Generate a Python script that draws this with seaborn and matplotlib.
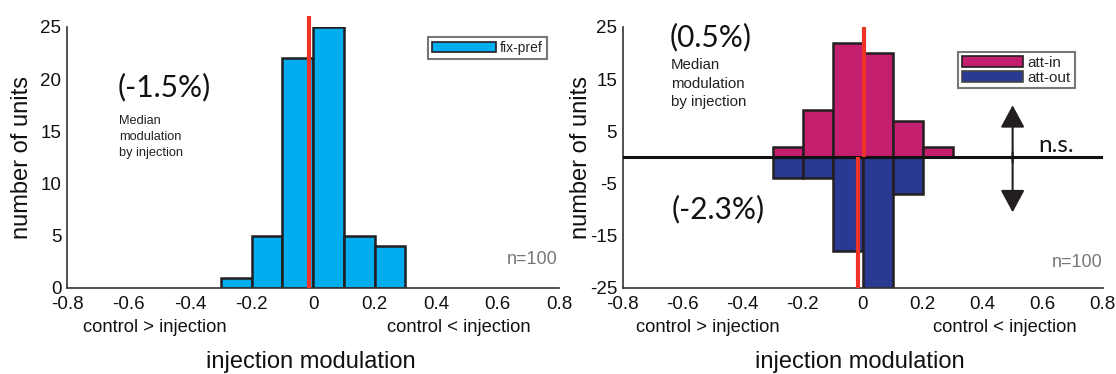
import numpy as np
import pandas as pd
import matplotlib
matplotlib.use("Agg")
import matplotlib.pyplot as plt
import seaborn as sns
from matplotlib.patches import Patch

# ---------------- data ----------------
bin_edges = [-0.3, -0.2, -0.1, 0.0, 0.1, 0.2, 0.3]
fix_pref_counts = [1, 5, 22, 25, 5, 4]
att_in_counts = [2, 9, 22, 20, 7, 2]
att_out_counts = [4, 4, 18, 25, 7, 0]

median_fix_pref = -0.013
median_att_in = 0.005
median_att_out = -0.015

label_fix_pref = "(-1.5%)"
label_att_in = "(0.5%)"
label_att_out = "(-2.3%)"
n_units = "n=100"

xticks = [-0.8, -0.6, -0.4, -0.2, 0.0, 0.2, 0.4, 0.6, 0.8]
xtick_labels = ["-0.8", "-0.6", "-0.4", "-0.2", "0", "0.2", "0.4", "0.6", "0.8"]
yticks_left = [0, 5, 10, 15, 20, 25]
yticks_right = [-25, -20, -15, -10, -5, 0, 5, 10, 15, 20, 25]
yticklabels_right = ["-25", "", "-15", "", "-5", "", "5", "", "15", "", "25"]

# ---------------- style ----------------
sns.set_theme(style="white")
plt.rcParams["font.family"] = ["Liberation Sans", "DejaVu Sans"]
BIG = ["Lato", "DejaVu Sans"]

C_FIX = "#00ADEE"
C_IN = "#C41E6E"
C_OUT = "#2A3A92"
C_RED = "#EE3329"
C_EDGE = "#231F20"
C_AX = "#333333"

fig = plt.figure(figsize=(11.16, 3.74), dpi=100)
axL = fig.add_axes([0.060, 0.230, 0.441, 0.698])
axR = fig.add_axes([0.558, 0.230, 0.430, 0.698])

edges = np.array(bin_edges)
centers = (edges[:-1] + edges[1:]) / 2
df = pd.DataFrame({"center": centers,
                   "fix": np.array(fix_pref_counts, dtype=float),
                   "att_in": np.array(att_in_counts, dtype=float),
                   "att_out": -np.array(att_out_counts, dtype=float)})
bins_list = list(bin_edges)

# ---- left panel ----
sns.histplot(data=df, x="center", weights="fix", bins=bins_list, ax=axL,
             color=C_FIX, alpha=1, edgecolor=C_EDGE, linewidth=1.8)
axL.plot([median_fix_pref, median_fix_pref], [0, 26], color=C_RED, lw=3,
         clip_on=False, zorder=5, solid_capstyle="butt")

# ---- right panel ----
sns.histplot(data=df, x="center", weights="att_in", bins=bins_list, ax=axR,
             color=C_IN, alpha=1, edgecolor=C_EDGE, linewidth=1.8)
sns.histplot(data=df, x="center", weights="att_out", bins=bins_list, ax=axR,
             color=C_OUT, alpha=1, edgecolor=C_EDGE, linewidth=1.8)
axR.axhline(0, color="#111111", lw=2.2, zorder=4)
axR.plot([median_att_in, median_att_in], [0, 25], color=C_RED, lw=3,
         zorder=5, solid_capstyle="butt")
axR.plot([median_att_out, median_att_out], [0, -25], color=C_RED, lw=3,
         zorder=5, solid_capstyle="butt")

# arrow & n.s.
arrow_style = "-|>,head_length=1.15,head_width=0.62"
axR.annotate("", xy=(0.5, 10), xytext=(0.5, -1),
             arrowprops=dict(arrowstyle=arrow_style, color="#231F20", lw=1.5,
                             shrinkA=0, shrinkB=0))
axR.annotate("", xy=(0.5, -10.5), xytext=(0.5, 1),
             arrowprops=dict(arrowstyle=arrow_style, color="#231F20", lw=1.5,
                             shrinkA=0, shrinkB=0))
axR.text(0.645, 2.3, "n.s.", fontsize=17.5, family=BIG, ha="center", va="center",
         color="#111111")

# ---- common axis formatting ----
for ax in (axL, axR):
    ax.set_xlim(-0.8, 0.8)
    ax.set_xticks(xticks)
    ax.set_xticklabels(xtick_labels)
    for s in ("top", "right"):
        ax.spines[s].set_visible(False)
    for s in ("left", "bottom"):
        ax.spines[s].set_color(C_AX)
        ax.spines[s].set_linewidth(1.2)
    ax.tick_params(direction="in", length=4, width=1.1, color=C_AX,
                   labelsize=13.5, labelcolor="#111111")
    ax.tick_params(axis="x", pad=6)
    ax.tick_params(axis="y", pad=4)
    ax.set_ylabel("number of units", fontsize=17, color="#111111")
    ax.set_xlabel("")
    ax.text(0.178, -0.153, "control > injection", transform=ax.transAxes,
            ha="center", va="center", fontsize=13.2, color="#111111")
    ax.text(0.796, -0.153, "control < injection", transform=ax.transAxes,
            ha="center", va="center", fontsize=13.2, color="#111111")
    ax.text(0.495, -0.283, "injection modulation", transform=ax.transAxes,
            ha="center", va="center", fontsize=17, color="#111111")
    ax.patch.set_alpha(0)

axL.set_ylim(0, 25)
axL.set_yticks(yticks_left)
axL.yaxis.set_label_coords(-0.069, 0.5)
axR.set_ylim(-25, 25)
axR.set_yticks(yticks_right)
axR.set_yticklabels(yticklabels_right)
axR.yaxis.set_label_coords(-0.065, 0.5)

# ---- annotations left ----
axL.text(-0.634, 19.2, label_fix_pref, fontsize=21.5, family=BIG, ha="left", va="center",
         color="#111111")
axL.text(-0.63, 16.6, "Median\nmodulation\nby injection", fontsize=9.2, ha="left", va="top",
         linespacing=1.45, color="#222222")
axL.text(0.795, 2.7, n_units, fontsize=13, ha="right", va="center", color="#777777")

# ---- annotations right ----
axR.text(-0.645, 23.1, label_att_in, fontsize=21.5, family=BIG, ha="left", va="center",
         color="#111111")
axR.text(-0.64, 19.0, "Median\nmodulation\nby injection", fontsize=10.8, ha="left", va="top",
         linespacing=1.4, color="#222222")
axR.text(-0.637, -9.9, label_att_out, fontsize=21.5, family=BIG, ha="left", va="center",
         color="#111111")
axR.text(0.8, -20.2, n_units, fontsize=13, ha="right", va="center", color="#777777")

# ---- legends ----
legL = axL.legend(handles=[Patch(facecolor=C_FIX, edgecolor=C_EDGE, linewidth=1.2, label="fix-pref")],
                  loc="upper right", bbox_to_anchor=(0.976, 0.962), borderaxespad=0,
                  fontsize=10, frameon=True, fancybox=False, handlelength=4.6,
                  handleheight=0.7, borderpad=0.3, handletextpad=0.3)
legL.get_frame().set_edgecolor("#555555")
legL.get_frame().set_linewidth(1.5)

legR = axR.legend(handles=[Patch(facecolor=C_IN, edgecolor=C_EDGE, linewidth=1.2, label="att-in"),
                           Patch(facecolor=C_OUT, edgecolor="#444444", linewidth=1.2, label="att-out")],
                  loc="upper right", bbox_to_anchor=(0.942, 0.904), borderaxespad=0,
                  fontsize=11, frameon=True, fancybox=False, handlelength=4.0,
                  handleheight=0.7, borderpad=0.25, handletextpad=0.3, labelspacing=0.05)
legR.get_frame().set_edgecolor("#555555")
legR.get_frame().set_linewidth(1.5)

fig.savefig("out.png", dpi=100, facecolor="white")
